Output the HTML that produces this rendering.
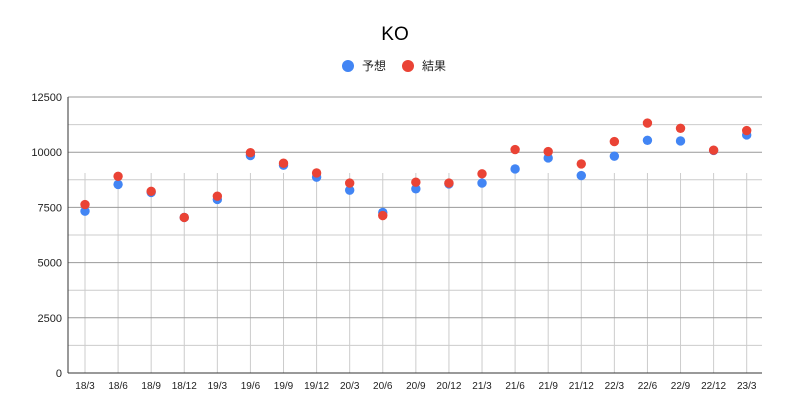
<!DOCTYPE html>
<html><head><meta charset="utf-8"><style>
body{margin:0;background:#fff;font-family:"Liberation Sans","Noto Sans CJK JP",sans-serif;}
svg{display:block}
</style></head><body>
<svg id="chart" width="789" height="419" font-family="Liberation Sans, Noto Sans CJK JP, sans-serif">
<rect width="789" height="419" fill="#fff"/>
<text x="395" y="40" text-anchor="middle" font-size="19" fill="#000">KO</text>
<g>
<g><circle cx="348" cy="66" r="6" fill="#4285f4"/><text x="362" y="70" font-size="12" fill="#222">予想</text></g>
<g><circle cx="408" cy="66" r="6" fill="#ea4335"/><text x="422" y="70" font-size="12" fill="#222">結果</text></g>
</g>
<g id="grid"></g><g id="xlab"></g><g id="ylab"></g><g id="pts"></g>
</svg>
<script>
const categories=["18/3","18/6","18/9","18/12","19/3","19/6","19/9","19/12","20/3","20/6","20/9","20/12","21/3","21/6","21/9","21/12","22/3","22/6","22/9","22/12","23/3"];
const forecast=[7330,8540,8180,7044,7860,9850,9410,8870,8280,7270,8340,8565,8600,9240,9740,8940,9820,10540,10510,10080,10780];
const result=[7630,8910,8230,7044,8010,9980,9500,9060,8600,7130,8640,8600,9020,10120,10030,9470,10480,11320,11080,10090,10980];
const yTicks=[0,2500,5000,7500,10000,12500];
const NS="http://www.w3.org/2000/svg";
const x0=68,x1=762,yb=373,yt=97,yMax=12500;
const xs=i=>85+i*(746.7-85)/(categories.length-1);
const ys=v=>yb-(v/yMax)*(yb-yt);
function mk(t,a,p){const e=document.createElementNS(NS,t);for(const k in a)e.setAttribute(k,a[k]);p.appendChild(e);return e;}
const g=document.getElementById('grid');
for(let v=1250;v<yMax;v+=2500){const l=mk('line',{x1:x0,x2:x1,y1:ys(v),y2:ys(v),stroke:'#cccccc','stroke-width':1},g);

}
categories.forEach((c,i)=>{const l=mk('line',{x1:xs(i),x2:xs(i),y1:173,y2:yb,stroke:'#cccccc','stroke-width':1},g);


const t=mk('text',{x:xs(i),y:389,'text-anchor':'middle','font-size':10,fill:'#222'},document.getElementById('xlab'));t.textContent=c;

});
yTicks.forEach(v=>{const l=mk('line',{x1:x0,x2:x1,y1:ys(v),y2:ys(v),stroke:v===0?'#333':'#999','stroke-width':1},g);


const t=mk('text',{x:62,y:ys(v)+4,'text-anchor':'end','font-size':11,fill:'#222'},document.getElementById('ylab'));t.textContent=v;

});
const ax=mk('line',{x1:x0,x2:x0,y1:yt,y2:yb,stroke:'#333','stroke-width':1},g);


const p=document.getElementById('pts');
forecast.forEach((v,i)=>{const c=mk('circle',{cx:xs(i),cy:ys(v),r:4.7,fill:'#4285f4'},p);

});
result.forEach((v,i)=>{const c=mk('circle',{cx:xs(i),cy:ys(v),r:4.7,fill:'#ea4335'},p);

});
</script>
</body></html>
